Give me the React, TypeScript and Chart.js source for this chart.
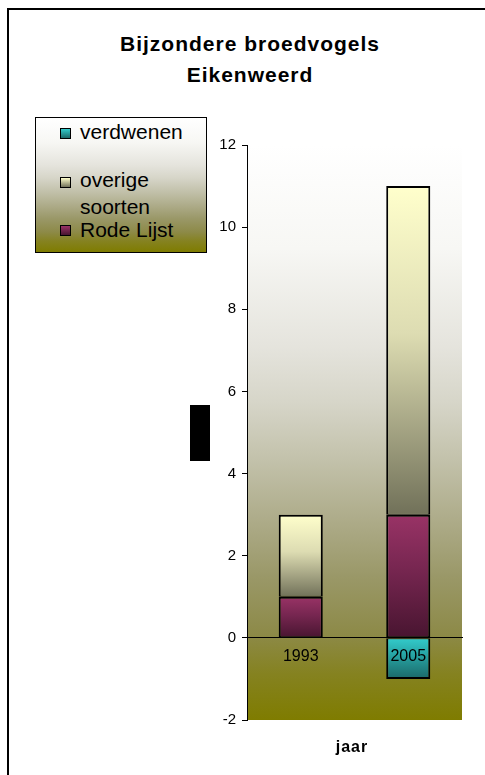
import React, { useEffect, useRef } from "react";
import { Chart, registerables } from "chart.js";

Chart.register(...registerables);

// ---- data ----
const categories = ["1993", "2005"];
const rodeLijst = [1, 3];
const overigeSoorten = [2, 8];
const verdwenen = [0, -1];
const seriesLabels = ["Rode Lijst", "overige soorten", "verdwenen"];
const titleLines = ["Bijzondere broedvogels", "Eikenweerd"];
const xTitle = "jaar";
const yMin = -2;
const yMax = 12;
const yStep = 2;

// ---- styles ----
const FONT = '"Liberation Sans", Arial, Helvetica, sans-serif';
const seriesTop = ["#993366", "#ffffcc", "#33cccc"];
const seriesMid = ["#762650", "#dddcb2", "#26a0a0"];
const seriesBottom = ["#481530", "#717159", "#1b6868"];
const bgStops: [number, string][] = [
  [0, "#ffffff"],
  [0.18, "#f7f7f4"],
  [0.35, "#e5e4dd"],
  [0.45, "#d6d5c8"],
  [0.55, "#c2c1aa"],
  [0.65, "#aeac8a"],
  [0.75, "#9a9868"],
  [0.85, "#8d8a48"],
  [0.92, "#858220"],
  [1, "#7f7c00"],
];
const cssBg = `linear-gradient(to bottom, ${bgStops
  .map(([p, c]) => `${c} ${p * 100}%`)
  .join(", ")})`;

function segmentBounds(ds: number, i: number): [number, number] {
  if (ds === 0) return [0, rodeLijst[i]];
  if (ds === 1) return [rodeLijst[i], rodeLijst[i] + overigeSoorten[i]];
  return [verdwenen[i], 0];
}

function gradFor(ds: number) {
  return (ctx: any) => {
    const chart = ctx.chart;
    const y = chart.scales && chart.scales.y;
    if (!y || ctx.type !== "data") return seriesTop[ds];
    const [lo, hi] = segmentBounds(ds, ctx.dataIndex);
    const p1 = y.getPixelForValue(hi);
    const p2 = y.getPixelForValue(lo);
    if (!isFinite(p1) || !isFinite(p2) || Math.abs(p2 - p1) < 0.5) return seriesTop[ds];
    const g = chart.ctx.createLinearGradient(0, Math.min(p1, p2), 0, Math.max(p1, p2));
    g.addColorStop(0, seriesTop[ds]);
    g.addColorStop(0.45, seriesMid[ds]);
    g.addColorStop(1, seriesBottom[ds]);
    return g;
  };
}

const plotBg = {
  id: "plotBg",
  beforeDraw(chart: any) {
    const { ctx, chartArea } = chart;
    if (!chartArea) return;
    const { left, top, right, bottom } = chartArea;
    const g = ctx.createLinearGradient(0, top, 0, bottom);
    bgStops.forEach(([p, c]) => g.addColorStop(p, c));
    ctx.save();
    ctx.fillStyle = g;
    ctx.fillRect(left, top, right - left, bottom - top);
    ctx.restore();
  },
};

const legendOrder = [2, 1, 0];
const legendLayout = [
  { textTop: 118, boxTop: 128 },
  { textTop: 166, boxTop: 177 },
  { textTop: 216, boxTop: 225 },
];

export default function App() {
  const canvasRef = useRef<HTMLCanvasElement | null>(null);

  useEffect(() => {
    const canvas = canvasRef.current;
    if (!canvas) return;
    const seriesData = [rodeLijst, overigeSoorten, verdwenen];
    const borderWidths = [
      { top: 2, bottom: 1, left: 2, right: 2 },
      { top: 2, bottom: 1, left: 2, right: 2 },
      { top: 1, bottom: 2, left: 2, right: 2 },
    ];
    const chart = new Chart(canvas, {
      type: "bar",
      data: {
        labels: categories,
        datasets: seriesLabels.map((label, k) => ({
          label,
          data: seriesData[k],
          backgroundColor: gradFor(k),
          borderColor: "#000000",
          borderWidth: borderWidths[k] as any,
          borderSkipped: false,
          categoryPercentage: 1,
          barPercentage: 0.41,
        })),
      },
      options: {
        animation: false,
        responsive: true,
        maintainAspectRatio: false,
        events: [],
        layout: { padding: { top: 145, bottom: 55, left: 207, right: 23 } },
        plugins: {
          legend: { display: false },
          title: { display: false },
          tooltip: { enabled: false },
        },
        scales: {
          x: {
            stacked: true,
            position: { y: 0 } as any,
            grid: { display: true, drawOnChartArea: false, drawTicks: false },
            border: { display: true, color: "#000000", width: 1, z: 1 },
            ticks: {
              color: "#000000",
              font: { family: FONT, size: 16 },
              padding: 9,
              z: 1,
              maxRotation: 0,
            },
            afterFit: (s: any) => {
              s.height = 0;
            },
          },
          y: {
            stacked: true,
            min: yMin,
            max: yMax,
            ticks: {
              stepSize: yStep,
              color: "#000000",
              font: { family: FONT, size: 15 },
              padding: 6,
            },
            grid: {
              drawOnChartArea: false,
              drawTicks: true,
              tickLength: 5,
              color: "#000000",
            },
            border: { display: true, color: "#000000", width: 1 },
            afterFit: (s: any) => {
              s.width = 40;
            },
          },
        },
      },
      plugins: [plotBg],
    });
    return () => chart.destroy();
  }, []);

  return (
    <div
      style={{
        position: "fixed",
        left: 0,
        top: 0,
        width: 485,
        height: 775,
        overflow: "hidden",
        background: "#ffffff",
        fontFamily: FONT,
      }}
    >
      <div
        style={{
          position: "absolute",
          left: 7,
          top: 8,
          width: 600,
          height: 900,
          borderLeft: "2px solid #000",
          borderTop: "2px solid #000",
        }}
      />
      <div
        style={{
          position: "absolute",
          left: 15,
          top: 28,
          width: 470,
          textAlign: "center",
          fontWeight: "bold",
          fontSize: 21,
          letterSpacing: 1,
          lineHeight: "31px",
          color: "#000",
        }}
      >
        {titleLines.map((t) => (
          <div key={t}>{t}</div>
        ))}
      </div>
      <div
        style={{
          position: "absolute",
          left: 35,
          top: 117,
          width: 172,
          height: 136,
          boxSizing: "border-box",
          border: "1px solid #000",
          background: cssBg,
        }}
      />
      {legendOrder.map((k, j) => (
        <React.Fragment key={seriesLabels[k]}>
          <div
            style={{
              position: "absolute",
              left: 60,
              top: legendLayout[j].boxTop,
              width: 11,
              height: 11,
              boxSizing: "border-box",
              border: "1px solid #000",
              background: `linear-gradient(to bottom, ${seriesTop[k]}, ${seriesBottom[k]})`,
            }}
          />
          <div
            style={{
              position: "absolute",
              left: 80,
              top: legendLayout[j].textTop,
              width: 120,
              fontSize: 21,
              lineHeight: "27px",
              color: "#000",
            }}
          >
            {seriesLabels[k]}
          </div>
        </React.Fragment>
      ))}
      <div
        style={{
          position: "absolute",
          left: 190,
          top: 405,
          width: 20,
          height: 56,
          background: "#000",
        }}
      />
      <div style={{ position: "absolute", left: 0, top: 0, width: 485, height: 775 }}>
        <canvas ref={canvasRef} />
      </div>
      <div
        style={{
          position: "absolute",
          left: 252,
          top: 739,
          width: 200,
          textAlign: "center",
          fontWeight: "bold",
          fontSize: 16,
          letterSpacing: 1,
          lineHeight: "16px",
          color: "#000",
        }}
      >
        {xTitle}
      </div>
    </div>
  );
}
